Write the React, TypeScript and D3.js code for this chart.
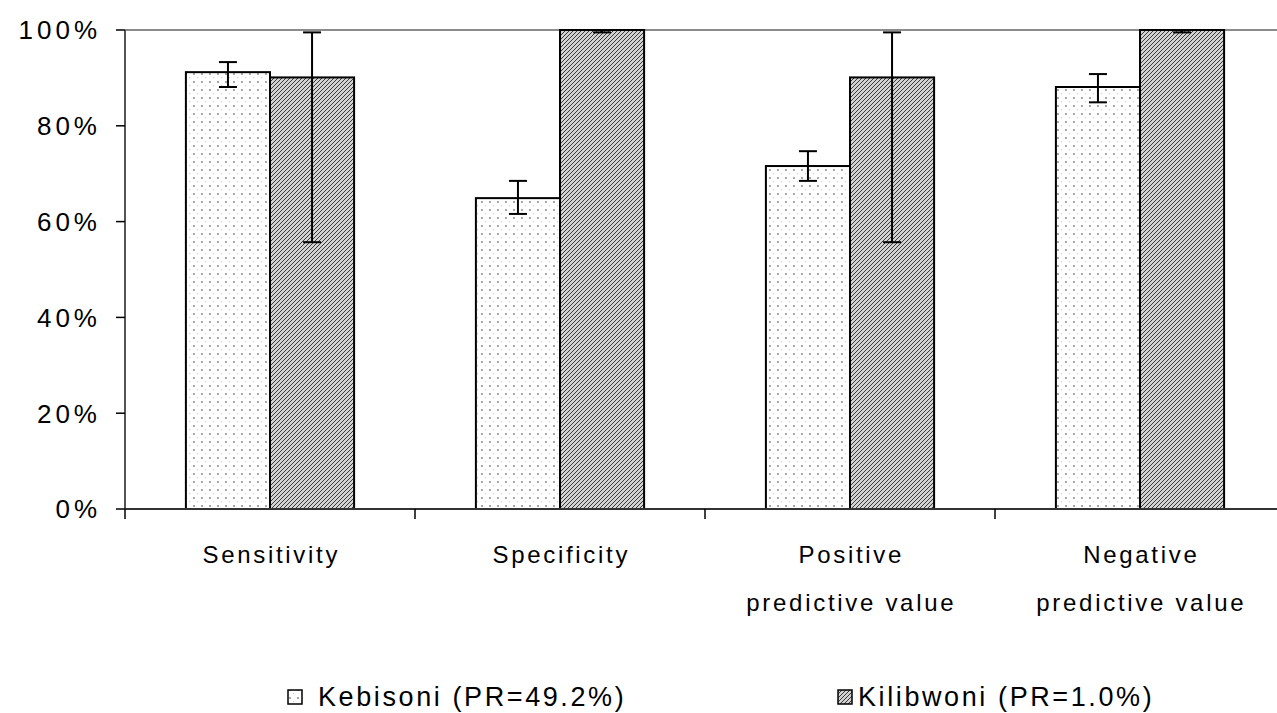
import * as d3 from "d3";
import { useEffect, useRef } from "react";

// values (percent)
const categories = ["Sensitivity", "Specificity", "Positive\npredictive value", "Negative\npredictive value"];
const seriesNames = ["Kebisoni (PR=49.2%)", "Kilibwoni (PR=1.0%)"];
const kebisoni = [91.2, 64.9, 71.6, 88.1];
const kebisoniLow = [88.1, 61.6, 68.5, 84.9];
const kebisoniHigh = [93.3, 68.5, 74.7, 90.8];
const kilibwoni = [90.1, 100, 90.1, 100];
const kilibwoniLow = [55.7, 99.5, 55.7, 99.5];
const kilibwoniHigh = [99.5, 100, 99.5, 100];
const yTicks = [0, 20, 40, 60, 80, 100];

const W = 1277;
const H = 713;
const FONT = "'Liberation Sans', Arial, sans-serif";

export default function App() {
  const ref = useRef<SVGSVGElement | null>(null);

  useEffect(() => {
    document.body.style.margin = "0";
    const svg = d3.select(ref.current);
    svg.selectAll("*").remove();

    const margin = { top: 30, left: 125, bottom: 204 };
    const plotBottom = H - margin.bottom; // 509
    const x = d3.scaleBand().domain(categories).range([margin.left, margin.left + 4 * 290]).paddingInner(0.42).paddingOuter(0.21);
    const sub = d3.scaleBand().domain(seriesNames).range([0, x.bandwidth()]);
    const y = d3.scaleLinear().domain([0, 100]).range([plotBottom, margin.top]);

    const defs = svg.append("defs");
    const dots = defs.append("pattern").attr("id", "dots").attr("patternUnits", "userSpaceOnUse").attr("width", 8).attr("height", 8);
    dots.append("rect").attr("width", 8).attr("height", 8).attr("fill", "#fff");
    dots.append("rect").attr("x", 1).attr("y", 1).attr("width", 2).attr("height", 2).attr("fill", "#a8a8a8");
    dots.append("rect").attr("x", 5).attr("y", 5).attr("width", 1.2).attr("height", 1.2).attr("fill", "#cfcfcf");

    const hatch = defs.append("pattern").attr("id", "hatch").attr("patternUnits", "userSpaceOnUse").attr("width", 4).attr("height", 4);
    hatch.append("rect").attr("width", 4).attr("height", 4).attr("fill", "#d2d2d2");
    hatch.append("path").attr("d", "M-1,1 L1,-1 M0,4 L4,0 M3,5 L5,3").attr("stroke", "#3a3a3a").attr("stroke-width", 1);

    // top gridline at 100%
    svg.append("line")
      .attr("x1", margin.left).attr("x2", W)
      .attr("y1", y(100)).attr("y2", y(100))
      .attr("stroke", "#8c8c8c").attr("stroke-width", 2);

    const series = [
      { name: seriesNames[0], vals: kebisoni, lo: kebisoniLow, hi: kebisoniHigh, fill: "url(#dots)" },
      { name: seriesNames[1], vals: kilibwoni, lo: kilibwoniLow, hi: kilibwoniHigh, fill: "url(#hatch)" },
    ];

    series.forEach((s) => {
      const g = svg.append("g");
      g.selectAll("rect")
        .data(categories)
        .join("rect")
        .attr("x", (c) => x(c)! + sub(s.name)!)
        .attr("y", (c, i) => y(s.vals[i]))
        .attr("width", sub.bandwidth())
        .attr("height", (c, i) => y(0) - y(s.vals[i]))
        .attr("fill", s.fill)
        .attr("stroke", "#000")
        .attr("stroke-width", 2);
    });

    series.forEach((s) => {
      const g = svg.append("g").attr("stroke", "#000").attr("stroke-width", 2);
      categories.forEach((c, i) => {
        const cx = x(c)! + sub(s.name)! + sub.bandwidth() / 2;
        g.append("line").attr("x1", cx).attr("x2", cx).attr("y1", y(s.lo[i])).attr("y2", y(s.hi[i]));
        [s.lo[i], s.hi[i]].forEach((v) => {
          g.append("line").attr("x1", cx - 9).attr("x2", cx + 9).attr("y1", y(v)).attr("y2", y(v));
        });
      });
    });

    // y axis
    const ya = svg.append("g");
    ya.append("line").attr("x1", margin.left).attr("x2", margin.left).attr("y1", y(100)).attr("y2", y(0)).attr("stroke", "#555").attr("stroke-width", 2);
    yTicks.forEach((t) => {
      ya.append("line").attr("x1", margin.left - 9).attr("x2", margin.left).attr("y1", y(t)).attr("y2", y(t)).attr("stroke", "#000").attr("stroke-width", 1.5);
      ya.append("text")
        .attr("x", 101).attr("y", y(t)).attr("dy", "0.36em")
        .attr("text-anchor", "end")
        .attr("font-family", FONT).attr("font-size", 26).attr("letter-spacing", 4)
        .attr("fill", "#000")
        .text(`${t}%`);
    });

    // x axis
    const xa = svg.append("g");
    xa.append("line").attr("x1", margin.left).attr("x2", W).attr("y1", y(0)).attr("y2", y(0)).attr("stroke", "#333").attr("stroke-width", 2);
    d3.range(0, 5).forEach((k) => {
      const tx = margin.left + k * 290;
      xa.append("line").attr("x1", tx).attr("x2", tx).attr("y1", y(0)).attr("y2", y(0) + 10).attr("stroke", "#000").attr("stroke-width", 1.5);
    });
    categories.forEach((c) => {
      const cx = x(c)! + x.bandwidth() / 2;
      const lines = c.split("\n");
      const t = xa.append("text")
        .attr("text-anchor", "middle")
        .attr("font-family", FONT).attr("font-size", 24).attr("letter-spacing", 2.7)
        .attr("fill", "#000");
      lines.forEach((ln, i) => {
        t.append("tspan").attr("x", cx + 1.3).attr("y", 563 + i * 48).text(ln);
      });
    });

    // legend
    const lg = svg.append("g");
    const legendPos = [[288, 318], [838, 858]];
    series.forEach((s, i) => {
      const [bx, tx] = legendPos[i];
      lg.append("rect").attr("x", bx).attr("y", 690).attr("width", 14).attr("height", 14)
        .attr("fill", s.fill).attr("stroke", "#000").attr("stroke-width", 1.5);
      lg.append("text").attr("x", tx).attr("y", 706)
        .attr("font-family", FONT).attr("font-size", 27).attr("letter-spacing", 2.6)
        .attr("fill", "#000")
        .text(s.name);
    });
  }, []);

  return <svg ref={ref} width={W} height={H} style={{ display: "block", background: "#fff" }} />;
}
